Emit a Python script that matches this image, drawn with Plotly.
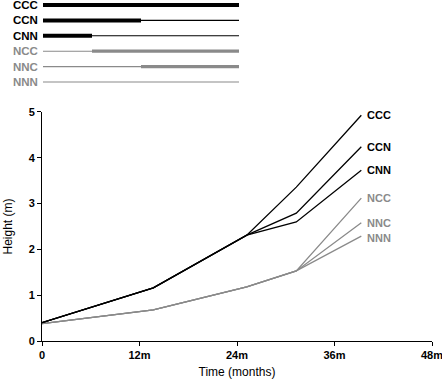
import plotly.graph_objects as go

# ---- data ----
months = [0, 13.7, 25.2, 31.3, 39.3]
treatments = ["CCC", "CCN", "CNN", "NCC", "NNC", "NNN"]
ccc = [0.40, 1.16, 2.31, 3.36, 4.93]
ccn = [0.40, 1.16, 2.31, 2.79, 4.24]
cnn = [0.40, 1.16, 2.31, 2.60, 3.73]
ncc = [0.38, 0.68, 1.18, 1.53, 3.12]
nnc = [0.38, 0.68, 1.18, 1.53, 2.58]
nnn = [0.38, 0.68, 1.18, 1.53, 2.29]
series = [ccc, ccn, cnn, ncc, nnc, nnn]

# legend diagram: periods where the treatment bar is thick (None = never)
n_periods = 4
thick_start = [0, 0, 0, 1, 2, None]
thick_end = [4, 2, 1, 4, 4, None]

x_ticks = [0, 12, 24, 36, 48]
x_ticklabels = ["0", "12m", "24m", "36m", "48m"]
y_ticks = [0, 1, 2, 3, 4, 5]

BLACK = "#000000"
GRAY = "#8a8a8a"
colors = [BLACK, BLACK, BLACK, GRAY, GRAY, GRAY]
FONT = "Liberation Sans, Arial, Helvetica, sans-serif"

fig = go.Figure()

# main lines (gray first, black on top)
for i in [3, 4, 5, 0, 1, 2]:
    fig.add_trace(go.Scatter(x=months, y=series[i], mode="lines",
                             line=dict(color=colors[i], width=1.3),
                             showlegend=False, hoverinfo="skip"))

annotations = []
label_yshift = {"NNN": -2}
for i, name in enumerate(treatments):
    annotations.append(dict(x=months[-1], y=series[i][-1], xref="x", yref="y",
                            text=name, showarrow=False, xanchor="left",
                            xshift=4, yshift=label_yshift.get(name, 0),
                            font=dict(family=FONT, size=11, color=colors[i], weight="bold")))

# legend diagram on secondary axes
for i, name in enumerate(treatments):
    thick_w = 4 if colors[i] == BLACK else 3.3
    fig.add_trace(go.Scatter(x=[0, n_periods], y=[i, i], mode="lines",
                             line=dict(color=colors[i], width=1.1),
                             xaxis="x2", yaxis="y2", showlegend=False, hoverinfo="skip"))
    if thick_start[i] is not None:
        fig.add_trace(go.Scatter(x=[thick_start[i], thick_end[i]], y=[i, i], mode="lines",
                                 line=dict(color=colors[i], width=thick_w),
                                 xaxis="x2", yaxis="y2", showlegend=False, hoverinfo="skip"))
    annotations.append(dict(x=0, y=i, xref="x2", yref="y2", text=name, showarrow=False,
                            xanchor="right", xshift=-3,
                            font=dict(family=FONT, size=11.5, color=colors[i], weight="bold")))

fig.update_layout(
    width=442, height=383,
    margin=dict(l=42, r=10, t=0, b=42, autoexpand=False),
    paper_bgcolor="white", plot_bgcolor="white",
    font=dict(family=FONT, color="black", size=12),
    annotations=annotations,
    xaxis=dict(domain=[0, 1], range=[0, 48], tickvals=x_ticks, ticktext=x_ticklabels,
               showline=True, linecolor="black", linewidth=1, ticks="outside",
               ticklen=4, tickcolor="black", showgrid=False, zeroline=False,
               ticklabeloverflow="allow", automargin=False,
               tickfont=dict(family=FONT, size=11, weight="bold"),
               title=dict(text="Time (months)", font=dict(family=FONT, size=12), standoff=7)),
    yaxis=dict(domain=[0, 0.6716], range=[0, 5], tickvals=y_ticks,
               showline=True, linecolor="black", linewidth=1, ticks="outside",
               ticklen=4, tickcolor="black", showgrid=False, zeroline=False,
               automargin=False,
               tickfont=dict(family=FONT, size=11, weight="bold"),
               title=dict(text="Height (m)", font=dict(family=FONT, size=12), standoff=13)),
    xaxis2=dict(domain=[0, 1], range=[-1 / 49, -1 / 49 + 390 / 49], visible=False,
                anchor="y2", automargin=False),
    yaxis2=dict(domain=[0.736, 1.0], range=[85 / 15.4, -5 / 15.4], visible=False,
                anchor="x2", automargin=False),
)

fig.write_html("out.html", config={"displayModeBar": False},
               post_script="document.body.style.margin='0';document.body.style.overflow='hidden';")
